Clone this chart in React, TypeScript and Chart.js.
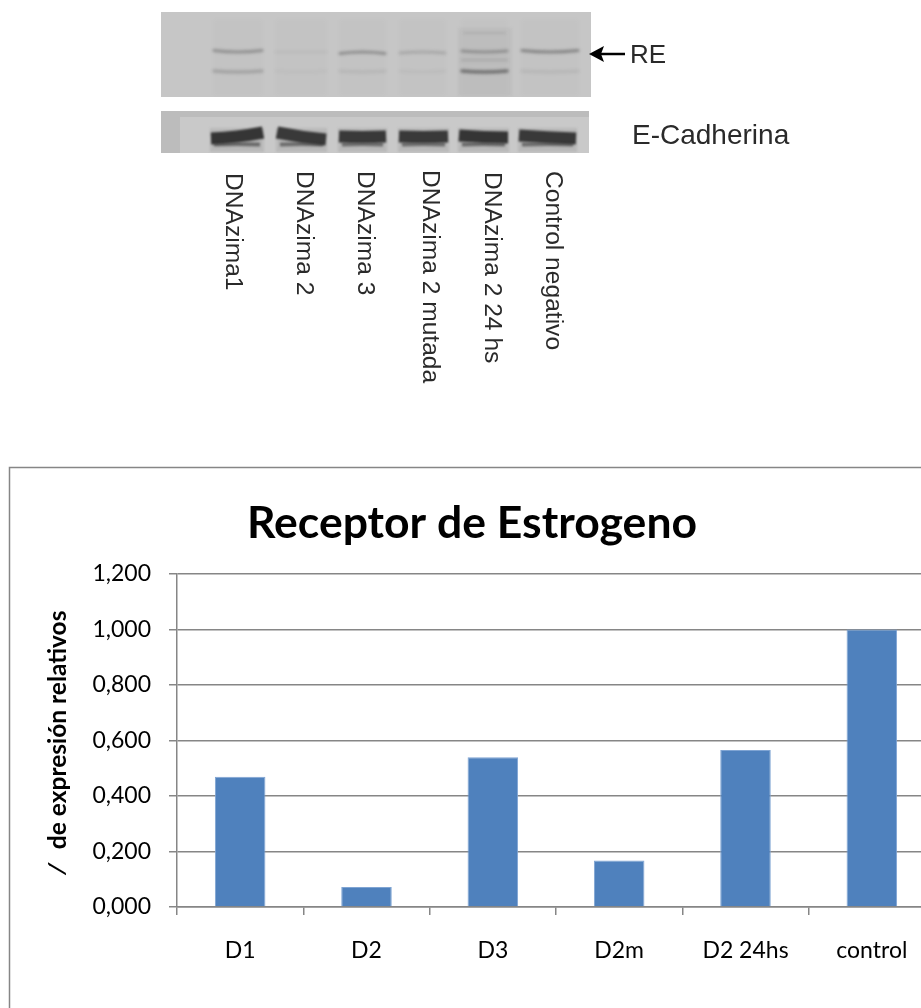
import React, { useEffect, useRef } from "react";
import { Chart, registerables } from "chart.js";

Chart.register(...registerables);

const categories = ["D1", "D2", "D3", "D2m", "D2 24hs", "control"];
const expression = [0.469, 0.072, 0.54, 0.168, 0.566, 1.0];
const yTicks = [0, 0.2, 0.4, 0.6, 0.8, 1.0, 1.2];
const chartTitle = "Receptor de Estrogeno";
const yAxisTitle = "\u2044   de expresión relativos";

const laneLabels = ["DNAzima1", "DNAzima 2", "DNAzima 3", "DNAzima 2 mutada", "DNAzima 2 24 hs", "Control negativo"];
const laneLabelX = [233, 304, 365, 430, 492, 553];
const laneLabelY = [173, 171, 171, 170, 172, 171];
// blot lanes: [left, right, upper band darkness, lower band darkness, upper band curvature]
const reLanes = [
  [214, 262, 0.34, 0.22, 1.5],
  [276, 326, 0.05, 0.03, 0],
  [340, 385, 0.36, 0.08, -1.5],
  [400, 445, 0.18, 0.04, -1],
  [462, 507, 0.36, 0.6, 1],
  [522, 578, 0.42, 0.08, 1.5],
];
// blot lanes: [left, right, darkness, left-end offset, right-end offset]
const cadLanes = [
  [210, 264, 0.98, 2, -4],
  [276, 327, 0.95, -4, 3],
  [338, 387, 0.95, 0, 0],
  [398, 449, 0.95, 0, 0],
  [458, 509, 0.98, -1, 1],
  [518, 577, 0.95, -1, 2],
];

function drawBlot(ctx: CanvasRenderingContext2D) {
  const band = (x0: number, x1: number, y: number, w: number, a: number, sag: number, d0 = 0, d1 = 0, cap: CanvasLineCap = "round") => {
    ctx.strokeStyle = `rgba(50,50,50,${a})`;
    ctx.lineWidth = w;
    ctx.lineCap = cap;
    ctx.beginPath();
    ctx.moveTo(x0, y - sag + d0);
    ctx.quadraticCurveTo((x0 + x1) / 2, y + sag, x1, y - sag + d1);
    ctx.stroke();
  };
  ctx.fillStyle = "#c6c6c6";
  ctx.fillRect(161, 12, 430, 85);
  ctx.fillStyle = "#bcbcbc";
  ctx.fillRect(161, 111, 428, 42);
  ctx.fillStyle = "#c9c9c9";
  ctx.fillRect(180, 117, 409, 36);
  ctx.save();
  ctx.beginPath();
  ctx.rect(161, 12, 430, 85);
  ctx.rect(161, 111, 428, 42);
  ctx.clip();
  ctx.filter = "blur(1.4px)";
  reLanes.forEach(([l, r, up, low, sag]) => {
    ctx.fillStyle = "rgba(150,150,150,0.07)";
    ctx.fillRect(l, 20, r - l, 75);
    band(l, r, 52, 3, up, sag);
    band(l, r, 72, 3.5, low, 1);
  });
  ctx.fillStyle = "rgba(150,150,150,0.12)";
  ctx.fillRect(458, 28, 54, 68);
  band(462, 507, 60, 3, 0.12, 0);
  band(464, 505, 33, 2, 0.1, 0);
  cadLanes.forEach(([l, r, a, d0, d1]) => {
    ctx.filter = "blur(1.2px)";
    ctx.fillStyle = "rgba(170,170,170,0.5)";
    ctx.fillRect(l, 128, r - l, 24);
    band(l + 1, r - 1, 137, 12, a, 0.5, d0, d1, "butt");
    band(l + 4, r - 4, 144, 4, a * 0.6, -0.5, 0, 0, "butt");
  });
  ctx.restore();
}

const framePlugin = {
  id: "frame",
  beforeDraw(chart: any) {
    const c = chart.ctx;
    c.save();
    c.strokeStyle = "#868686";
    c.lineWidth = 1.5;
    c.strokeRect(9.5, 467.5, 1200, 900);
    c.restore();
  },
};

export default function App() {
  const chartRef = useRef<HTMLCanvasElement>(null);
  const blotRef = useRef<HTMLCanvasElement>(null);

  useEffect(() => {
    const blotCtx = blotRef.current!.getContext("2d")!;
    drawBlot(blotCtx);

    const font = "Lato, Carlito, 'Open Sans', sans-serif";
    const chart = new Chart(chartRef.current!, {
      type: "bar",
      data: {
        labels: categories,
        datasets: [
          {
            data: expression,
            backgroundColor: "#4F81BD",
            borderColor: "#7FA4D3",
            borderWidth: 1,
            barPercentage: 0.4,
            categoryPercentage: 1,
          },
        ],
      },
      options: {
        animation: false,
        responsive: false,
        devicePixelRatio: 1,
        layout: { padding: { left: 9, top: 467, right: 9, bottom: 0 } },
        plugins: {
          legend: { display: false },
          tooltip: { enabled: false },
          title: {
            display: true,
            text: chartTitle,
            color: "#000",
            font: { family: font, size: 44.5, weight: "bold", lineHeight: 52.8 / 44.5 },
            padding: { top: 30, bottom: 24.2 },
          },
        },
        scales: {
          x: {
            grid: { display: true, drawOnChartArea: false, drawTicks: true, tickLength: 8, color: "#868686", lineWidth: 1.5 },
            border: { color: "#868686", width: 1.5 },
            ticks: { color: "#000", font: { family: font, size: 23 }, padding: 22, maxRotation: 0, autoSkip: false },
            afterFit: (s: any) => {
              s.height = 101;
            },
          },
          y: {
            min: 0,
            max: 1.2,
            afterBuildTicks: (s: any) => {
              s.ticks = yTicks.map((value) => ({ value }));
            },
            grid: { color: "#868686", lineWidth: 1.5, tickLength: 8 },
            border: { color: "#868686", width: 1.5 },
            ticks: {
              color: "#000",
              font: { family: font, size: 23 },
              padding: 18,
              callback: (v: any) => Number(v).toFixed(3).replace(".", ","),
            },
            title: {
              display: true,
              text: yAxisTitle,
              color: "#000",
              font: { family: font, size: 24.5, weight: "bold", lineHeight: 1.15 },
              padding: { top: 35, bottom: 0 },
            },
            afterFit: (s: any) => {
              s.width = 168;
            },
          },
        },
      },
      plugins: [framePlugin],
    } as any);
    return () => chart.destroy();
  }, []);

  const arial = "'Liberation Sans', Arial, sans-serif";
  const abs = { position: "absolute", whiteSpace: "nowrap", color: "#2a2a2a", fontFamily: arial, lineHeight: 1 } as const;

  return (
    <div style={{ position: "absolute", left: 0, top: 0, width: 921, height: 1008, overflow: "hidden", background: "#fff" }}>
      <canvas ref={chartRef} width={944} height={1008} style={{ position: "absolute", left: 0, top: 0 }} />
      <canvas ref={blotRef} width={921} height={160} style={{ position: "absolute", left: 0, top: 0 }} />
      {/* arrow */}
      <svg width={60} height={24} style={{ position: "absolute", left: 585, top: 43 }}>
        <path d="M4 11 L19 3 L16 11 L19 19 Z" fill="#000" />
        <line x1={15} y1={11} x2={40} y2={11} stroke="#000" strokeWidth={2.5} />
      </svg>
      <span style={{ ...abs, left: 630, top: 41, fontSize: 26 }}>RE</span>
      <span style={{ ...abs, left: 632, top: 121, fontSize: 28 }}>E-Cadherina</span>
      {laneLabels.map((t, i) => (
        <span
          key={t}
          style={{
            ...abs,
            left: laneLabelX[i] - 12,
            top: laneLabelY[i],
            fontSize: 24.6,
            writingMode: "vertical-rl",
          }}
        >
          {t}
        </span>
      ))}
    </div>
  );
}
